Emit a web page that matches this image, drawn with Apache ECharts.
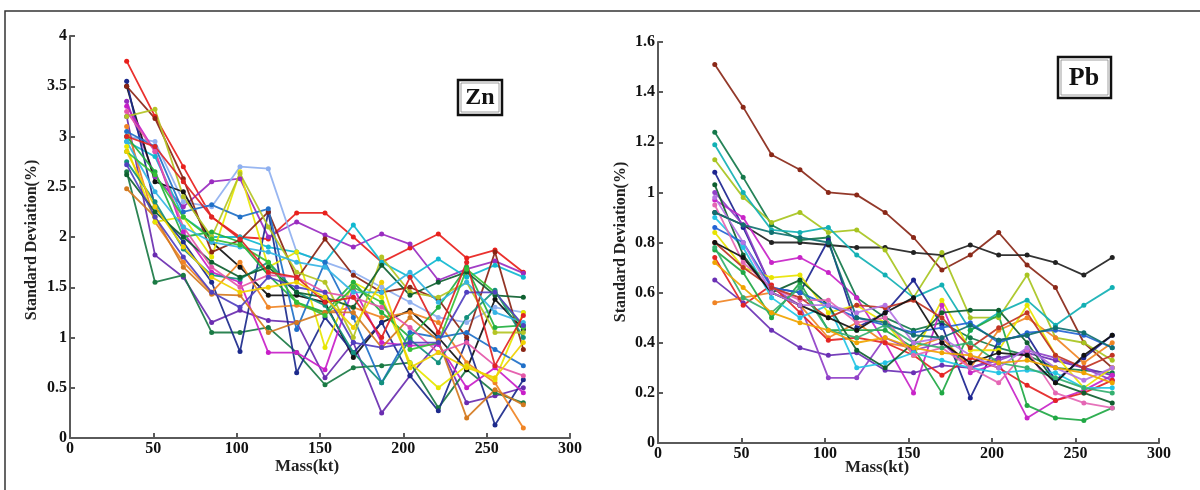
<!DOCTYPE html>
<html>
<head>
<meta charset="utf-8">
<script src="https://cdn.jsdelivr.net/npm/echarts@6/dist/echarts.min.js"></script>
<style>
html,body{margin:0;padding:0;background:#fff;}
#main{width:1200px;height:490px;}
</style>
</head>
<body>
<div id="main"></div>
<script>
// sample masses (kt)
var masses = [34, 51, 68, 85, 102, 119, 136, 153, 170, 187, 204, 221, 238, 255, 272];

var xTicks = [0, 50, 100, 150, 200, 250, 300];

// Zn standard deviation curves (%)
var znRows = [
    [3.75, 3.20, 2.70, 2.20, 2.00, 1.98, 2.24, 2.24, 2.00, 1.75, 1.89, 2.03, 1.79, 1.87, 1.65],
    [3.35, 2.60, 2.30, 2.55, 2.58, 2.00, 2.15, 2.02, 1.90, 2.03, 1.93, 1.57, 1.68, 1.76, 1.64],
    [3.00, 2.95, 2.35, 2.30, 2.70, 2.68, 1.85, 1.75, 1.65, 1.50, 1.35, 1.20, 1.15, 1.30, 1.25],
    [2.95, 2.80, 2.20, 2.00, 2.00, 1.90, 1.85, 1.75, 2.12, 1.75, 1.60, 1.78, 1.60, 1.72, 1.60],
    [3.20, 1.82, 1.60, 1.15, 1.27, 1.17, 1.15, 0.60, 0.95, 0.25, 0.62, 0.95, 0.35, 0.42, 0.50],
    [2.65, 1.55, 1.62, 1.05, 1.05, 1.10, 0.85, 0.53, 0.70, 0.72, 0.75, 0.30, 0.68, 0.45, 0.35],
    [3.50, 2.55, 2.45, 1.95, 1.70, 1.42, 1.42, 1.35, 0.80, 1.15, 1.27, 1.00, 0.68, 1.38, 1.08],
    [3.55, 2.30, 1.95, 1.55, 0.86, 2.25, 0.65, 1.20, 0.85, 1.15, 0.62, 0.27, 0.97, 0.13, 0.58],
    [3.30, 2.85, 2.05, 1.65, 1.55, 0.85, 0.85, 0.68, 1.50, 0.95, 0.92, 0.93, 0.50, 0.70, 0.45],
    [3.10, 2.15, 1.75, 1.45, 1.75, 1.30, 1.32, 1.25, 1.30, 1.20, 1.25, 1.15, 0.75, 0.55, 0.10],
    [2.90, 2.15, 2.20, 1.80, 2.65, 1.70, 1.85, 0.90, 1.55, 1.40, 0.75, 0.50, 0.72, 0.58, 1.25],
    [3.00, 2.65, 2.00, 2.05, 1.95, 1.62, 1.35, 1.25, 1.55, 1.25, 1.00, 1.30, 1.70, 1.10, 1.12],
    [3.50, 3.18, 2.58, 1.85, 1.97, 2.25, 1.58, 1.98, 1.62, 1.45, 1.50, 1.38, 1.00, 1.85, 0.88],
    [3.05, 2.90, 2.25, 2.32, 2.20, 2.28, 1.08, 1.75, 1.20, 0.55, 1.05, 1.00, 1.05, 0.88, 0.72],
    [2.75, 2.35, 1.88, 1.62, 1.58, 1.75, 1.45, 1.32, 0.85, 0.55, 0.98, 0.75, 1.20, 1.47, 1.00],
    [3.20, 3.27, 2.40, 2.00, 2.63, 2.10, 1.65, 1.55, 1.00, 1.80, 1.45, 1.40, 1.55, 1.05, 1.05],
    [2.48, 2.20, 1.70, 1.43, 1.42, 1.05, 1.15, 1.25, 1.25, 0.90, 1.20, 0.97, 0.20, 0.48, 0.33],
    [2.62, 2.25, 2.00, 1.75, 1.60, 1.70, 1.45, 1.40, 1.30, 1.72, 1.42, 1.55, 1.65, 1.42, 1.40],
    [3.25, 2.85, 2.10, 1.70, 1.50, 1.62, 1.60, 1.45, 1.40, 1.30, 1.10, 0.85, 0.95, 0.72, 0.62],
    [2.95, 2.45, 2.10, 1.95, 1.90, 1.85, 1.75, 1.70, 1.45, 1.45, 1.65, 1.35, 1.55, 1.25, 1.15],
    [2.85, 2.62, 2.20, 1.98, 1.92, 1.75, 1.35, 1.22, 1.50, 1.35, 0.88, 0.95, 1.68, 1.45, 1.10],
    [2.72, 2.20, 1.80, 1.45, 1.30, 1.60, 1.50, 1.45, 0.95, 0.90, 0.95, 0.95, 1.45, 1.45, 1.12],
    [3.00, 2.90, 2.55, 2.20, 1.98, 1.65, 1.60, 1.35, 1.40, 1.00, 1.60, 1.05, 1.75, 0.72, 1.22],
    [2.85, 2.30, 1.90, 1.60, 1.45, 1.50, 1.55, 1.40, 1.10, 1.55, 0.70, 0.85, 0.70, 0.60, 0.95]
];

// Pb standard deviation curves (%)
var pbRows = [
    [1.51, 1.34, 1.15, 1.09, 1.00, 0.99, 0.92, 0.82, 0.69, 0.75, 0.84, 0.71, 0.62, 0.40, 0.30],
    [0.92, 0.87, 0.80, 0.80, 0.79, 0.78, 0.78, 0.76, 0.75, 0.79, 0.75, 0.75, 0.72, 0.67, 0.74],
    [1.24, 1.06, 0.87, 0.81, 0.82, 0.58, 0.50, 0.45, 0.48, 0.42, 0.38, 0.35, 0.30, 0.29, 0.28],
    [1.13, 0.98, 0.88, 0.92, 0.84, 0.85, 0.77, 0.58, 0.76, 0.50, 0.50, 0.67, 0.42, 0.40, 0.33],
    [1.19, 1.00, 0.85, 0.84, 0.86, 0.75, 0.67, 0.58, 0.63, 0.45, 0.52, 0.57, 0.47, 0.55, 0.62],
    [1.08, 0.86, 0.62, 0.60, 0.81, 0.46, 0.52, 0.65, 0.47, 0.18, 0.41, 0.43, 0.25, 0.34, 0.43],
    [0.65, 0.56, 0.45, 0.38, 0.35, 0.36, 0.29, 0.28, 0.31, 0.30, 0.34, 0.36, 0.33, 0.30, 0.27],
    [0.97, 0.90, 0.72, 0.74, 0.68, 0.58, 0.40, 0.20, 0.55, 0.28, 0.32, 0.10, 0.17, 0.21, 0.27],
    [1.00, 0.87, 0.62, 0.55, 0.26, 0.26, 0.42, 0.37, 0.40, 0.30, 0.33, 0.37, 0.34, 0.30, 0.25],
    [0.56, 0.58, 0.60, 0.55, 0.42, 0.48, 0.40, 0.38, 0.42, 0.30, 0.45, 0.50, 0.42, 0.32, 0.40],
    [0.74, 0.55, 0.63, 0.52, 0.41, 0.42, 0.40, 0.35, 0.27, 0.34, 0.30, 0.23, 0.17, 0.20, 0.25],
    [0.77, 0.68, 0.50, 0.64, 0.45, 0.45, 0.45, 0.38, 0.20, 0.45, 0.51, 0.15, 0.10, 0.09, 0.14],
    [0.84, 0.70, 0.66, 0.67, 0.52, 0.55, 0.48, 0.35, 0.57, 0.37, 0.37, 0.55, 0.35, 0.22, 0.30],
    [0.90, 0.78, 0.58, 0.50, 0.55, 0.30, 0.32, 0.36, 0.33, 0.30, 0.28, 0.29, 0.28, 0.22, 0.22],
    [1.03, 0.75, 0.60, 0.65, 0.55, 0.37, 0.30, 0.40, 0.52, 0.53, 0.53, 0.40, 0.24, 0.20, 0.16],
    [0.86, 0.80, 0.62, 0.60, 0.55, 0.50, 0.47, 0.44, 0.46, 0.48, 0.40, 0.44, 0.45, 0.43, 0.38],
    [0.95, 0.72, 0.62, 0.57, 0.57, 0.48, 0.50, 0.35, 0.38, 0.30, 0.24, 0.37, 0.20, 0.16, 0.14],
    [0.80, 0.70, 0.62, 0.58, 0.50, 0.55, 0.54, 0.57, 0.50, 0.38, 0.46, 0.52, 0.35, 0.30, 0.35],
    [0.78, 0.58, 0.52, 0.62, 0.45, 0.42, 0.47, 0.40, 0.38, 0.40, 0.32, 0.30, 0.26, 0.22, 0.20],
    [0.80, 0.74, 0.60, 0.55, 0.50, 0.45, 0.52, 0.58, 0.40, 0.32, 0.36, 0.35, 0.24, 0.35, 0.43],
    [0.98, 0.80, 0.60, 0.55, 0.55, 0.52, 0.55, 0.40, 0.42, 0.35, 0.30, 0.38, 0.30, 0.25, 0.30],
    [0.72, 0.62, 0.52, 0.48, 0.45, 0.40, 0.42, 0.38, 0.36, 0.35, 0.32, 0.33, 0.30, 0.28, 0.24],
    [0.92, 0.87, 0.84, 0.82, 0.80, 0.50, 0.48, 0.43, 0.42, 0.47, 0.41, 0.43, 0.46, 0.44, 0.38]
];

var znColors = ['#e8201c','#9a2cc0','#8fb0f0','#10b8d0','#6a2cb0','#1a7a44','#111111','#1c2a8c',
    '#c81ec8','#f08424','#e6e600','#22b040','#8a2414','#2070c8','#13907c','#b4c424',
    '#d47a20','#0e6030','#e456a8','#34b4e4','#36c036','#5040c0','#e02424','#f0d000'];
var pbColors = ['#8a2818','#222222','#14784a','#a8c420','#12b0b4','#1c2490','#6a30b4','#c824c8',
    '#9040c8','#f08424','#e42424','#20a844','#e8e400','#24c4e4','#0e5e2e','#2464d4',
    '#e466b4','#c03424','#34b070','#111111','#b474e4','#f0a400','#107070'];

var myChart = echarts.init(document.getElementById('main'));

function buildSeries(rows, colors, axisIndex){
    var out = [];
    for (var i = 0; i < rows.length; i++) {
        var pts = [];
        for (var j = 0; j < masses.length; j++) {
            pts.push([masses[j], rows[i][j]]);
        }
        out.push({
            name: (axisIndex == 0 ? 'Zn' : 'Pb') + (i + 1),
            type: 'line',
            xAxisIndex: axisIndex,
            yAxisIndex: axisIndex,
            data: pts,
            symbol: 'circle',
            symbolSize: 5,
            lineStyle: { width: 1.8, color: colors[i], opacity: 0.92 },
            itemStyle: { color: colors[i] },
            silent: true,
            animation: false
        });
    }
    return out;
}

var tickFont = { color: '#111', fontFamily: 'Liberation Serif', fontWeight: 'bold', fontSize: 16 };
var axLine = { show: true, lineStyle: { color: '#5a5a5a', width: 2 } };
var axTick = { show: true, inside: true, length: 5, lineStyle: { color: '#5a5a5a', width: 2 } };

function xAx(idx){
    return {
        type: 'value', gridIndex: idx, min: 0, max: 300, interval: 50,
        axisLine: axLine, axisTick: axTick, splitLine: { show: false },
        axisLabel: Object.assign({ margin: 3 }, tickFont)
    };
}
function yAx(idx, max, interval){
    return {
        type: 'value', gridIndex: idx, min: 0, max: max, interval: interval,
        axisLine: axLine, axisTick: axTick, splitLine: { show: false },
        axisLabel: Object.assign({ margin: 3 }, tickFont)
    };
}

var labelFont = { fontFamily: 'Liberation Serif', fontWeight: 'bold', fontSize: 17, fill: '#222' };

var option = {
    backgroundColor: '#fff',
    animation: false,
    grid: [
        { left: 70, right: 630, top: 36, bottom: 52 },
        { left: 658, right: 41, top: 42, bottom: 47 }
    ],
    xAxis: [ xAx(0), xAx(1) ],
    yAxis: [ yAx(0, 4, 0.5), yAx(1, 1.6, 0.2) ],
    series: buildSeries(znRows, znColors, 0).concat(buildSeries(pbRows, pbColors, 1)),
    graphic: [
        // outer frame
        { type: 'rect', shape: { x: 5, y: 11, width: 1210, height: 500 },
          style: { fill: 'none', stroke: '#333', lineWidth: 1.5 }, silent: true },
        // axis titles
        { type: 'text', x: 307, y: 467, style: Object.assign({ text: 'Mass(kt)', align: 'center', verticalAlign: 'middle' }, labelFont) },
        { type: 'text', x: 877, y: 468, style: Object.assign({ text: 'Mass(kt)', align: 'center', verticalAlign: 'middle' }, labelFont) },
        { type: 'text', x: 32, y: 240, rotation: Math.PI / 2,
          style: Object.assign({ text: 'Standard Deviation(%)', align: 'center', verticalAlign: 'middle' }, labelFont, { fontSize: 16 }) },
        { type: 'text', x: 621, y: 242, rotation: Math.PI / 2,
          style: Object.assign({ text: 'Standard Deviation(%)', align: 'center', verticalAlign: 'middle' }, labelFont, { fontSize: 16 }) },
        // element boxes
        { type: 'rect', shape: { x: 458, y: 80, width: 44, height: 35 },
          style: { fill: '#fff', stroke: '#111', lineWidth: 2.5 } },
        { type: 'rect', shape: { x: 461, y: 83, width: 38, height: 29 },
          style: { fill: 'none', stroke: '#888', lineWidth: 0.8 } },
        { type: 'text', x: 480, y: 98, style: { text: 'Zn', align: 'center', verticalAlign: 'middle',
          fontFamily: 'Liberation Serif', fontWeight: 'bold', fontSize: 24, fill: '#111' } },
        { type: 'rect', shape: { x: 1058, y: 57, width: 53, height: 41 },
          style: { fill: '#fff', stroke: '#111', lineWidth: 2.5 } },
        { type: 'rect', shape: { x: 1061, y: 60, width: 47, height: 35 },
          style: { fill: 'none', stroke: '#888', lineWidth: 0.8 } },
        { type: 'text', x: 1084, y: 78, style: { text: 'Pb', align: 'center', verticalAlign: 'middle',
          fontFamily: 'Liberation Serif', fontWeight: 'bold', fontSize: 26, fill: '#111' } }
    ]
};

myChart.setOption(option);
</script>
</body>
</html>
